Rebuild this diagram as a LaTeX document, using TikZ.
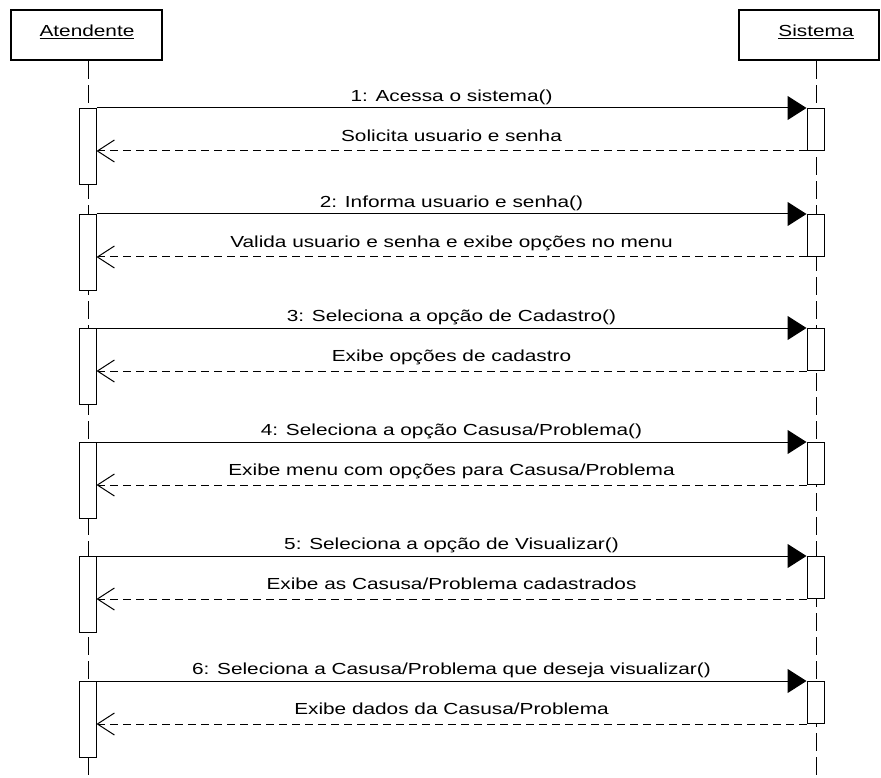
\documentclass[tikz,border=0pt]{standalone}
\usepackage{fontspec}
\setmainfont{Liberation Sans}[FakeStretch=1.3]
\usetikzlibrary{arrows.meta}

\tikzset{
  participant/.style={draw, line width=2.6pt, fill=white, minimum height=50pt, inner sep=0pt},
  pname/.style={font=\fontsize{16pt}{18pt}\selectfont, inner sep=0pt, anchor=base},
  lifeline/.style={line width=1pt, dash pattern=on 18pt off 6pt},
  activation/.style={draw, line width=1pt, fill=white, minimum width=17pt, inner sep=0pt, anchor=north},
  call/.style={line width=1pt, -{Triangle[length=19pt,width=24pt]}},
  reply/.style={line width=1pt, dash pattern=on 8pt off 5pt,
    -{Straight Barb[length=17pt,width=22pt,line width=1pt]}},
  msgtext/.style={font=\fontsize{16pt}{18pt}\selectfont, inner sep=0pt, anchor=base},
}

% one call/reply exchange: #1 index, #2 y of the call, #3 call text, #4 reply text
\newcommand{\seqexchange}[4]{%
  \node[activation, minimum height=76pt] (a#1) at (87.5,#2) {};
  \node[activation, minimum height=42pt] (s#1) at (815.5,#2) {};
  \draw[call] (a#1.north east) -- (s#1.north west);
  \draw[reply] (s#1.south west) -- (a#1.east |- s#1.south west);
  \node[msgtext] (c#1) at (451.5,{#2-6.5}) {#3};
  \node[msgtext] (r#1) at (451.5,{#2+33.5}) {#4};
}

\begin{document}
\begin{tikzpicture}[x=1pt,y=-1pt]
  \fill[white] (0,0) rectangle (881,778);
  \useasboundingbox (0,0) rectangle (881,778);

  % participants
  \node[participant, minimum width=151pt] (atd) at (86.5,35) {};
  \node[pname] (atdname) at (87,37) {\underline{Atendente}};
  \node[participant, minimum width=140pt] (sis) at (809,35) {};
  \node[pname] (sisname) at (816,37) {\underline{Sistema}};

  % lifelines
  \coordinate (atdEnd) at (88,778);
  \coordinate (sisEnd) at (816,778);
  \draw[lifeline] (atd.south -| atdEnd) -- (atdEnd);
  \draw[lifeline] (sis.south -| sisEnd) -- (sisEnd);

  % message exchanges
  \seqexchange{1}{108}{1: Acessa o sistema()}{Solicita usuario e senha}
  \seqexchange{2}{214}{2: Informa usuario e senha()}{Valida usuario e senha e exibe opções no menu}
  \seqexchange{3}{328}{3: Seleciona a opção de Cadastro()}{Exibe opções de cadastro}
  \seqexchange{4}{442}{4: Seleciona a opção Casusa/Problema()}{Exibe menu com opções para Casusa/Problema}
  \seqexchange{5}{556}{5: Seleciona a opção de Visualizar()}{Exibe as Casusa/Problema cadastrados}
  \seqexchange{6}{681}{6: Seleciona a Casusa/Problema que deseja visualizar()}{Exibe dados da Casusa/Problema}
\end{tikzpicture}
\end{document}
